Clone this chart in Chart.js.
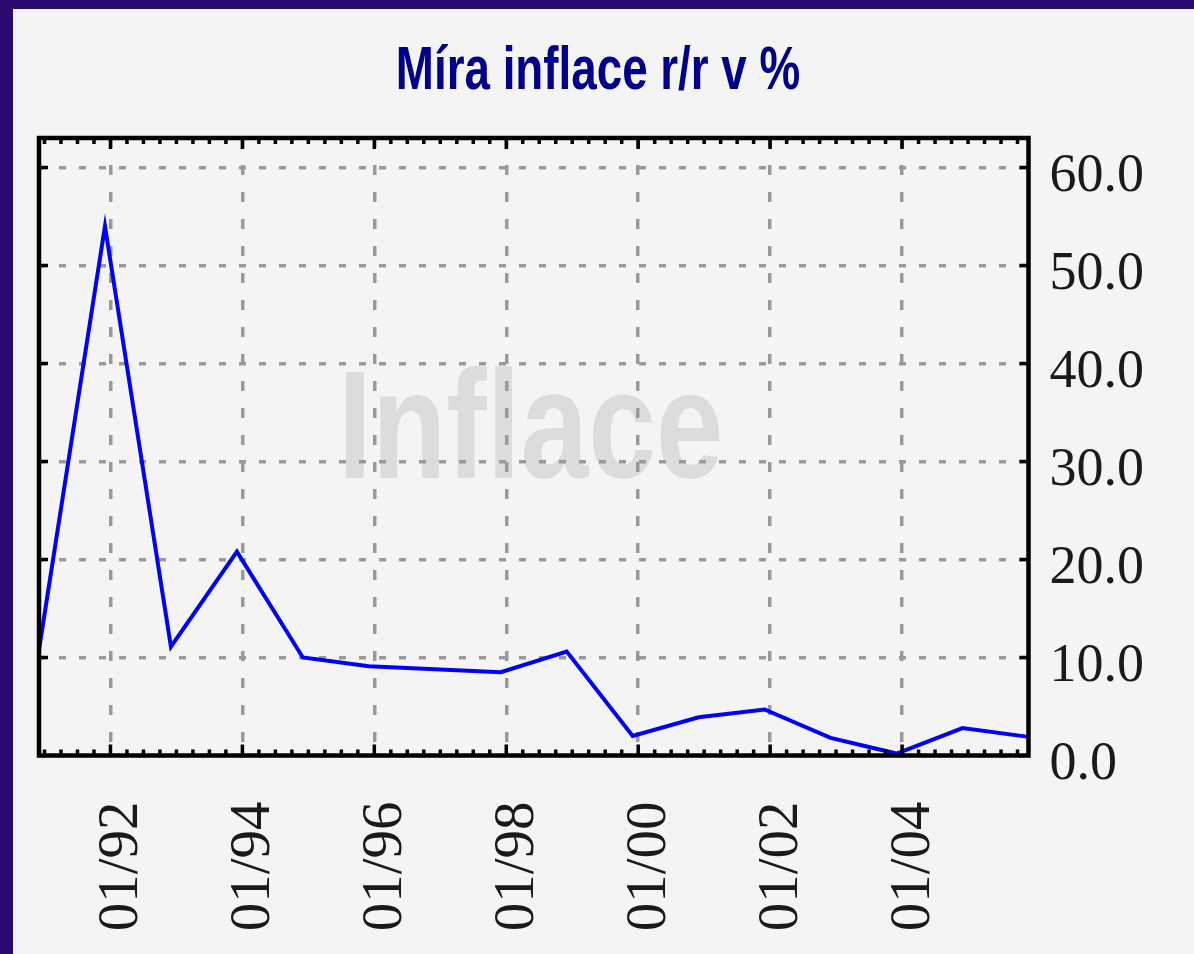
<!DOCTYPE html>
<html>
<head>
<meta charset="utf-8">
<title>Míra inflace</title>
<script src="https://cdn.jsdelivr.net/npm/chart.js@4.4.0/dist/chart.umd.min.js"></script>
<style>
  html, body { margin: 0; padding: 0; }
  body { width: 1194px; height: 954px; background: #2b0a6f; overflow: hidden; position: relative; }
  #panel { position: absolute; left: 13px; top: 9px; width: 1181px; height: 945px; background: #f4f4f4; }
</style>
</head>
<body>
<div id="panel"><canvas id="inflaceChart"></canvas></div>
<script>
// ===== data (roční inflace, bod vždy v prosinci daného roku) =====
const years = [1990, 1991, 1992, 1993, 1994, 1995, 1996, 1997, 1998, 1999, 2000, 2001, 2002, 2003, 2004, 2005];
const inflation = [10.8, 54.0, 11.1, 20.8, 10.0, 9.1, 8.8, 8.5, 10.6, 2.0, 3.9, 4.7, 1.8, 0.2, 2.8, 1.9];
const xTickLabels = ['01/92', '01/94', '01/96', '01/98', '01/00', '01/02', '01/04'];
const yTicks = [0, 10, 20, 30, 40, 50, 60];

const chartTitle = 'Míra inflace r/r v %';
const watermark = 'Inflace';

// osa x = měsíce od 12/1990
const START_YEAR = 1990;
const X_MAX = 180;
const Y_MAX = 63;

function monthOfYearEnd(y) {
  return (y - START_YEAR) * 12;
}
function monthOfLabel(lbl) {
  const [mm, yy] = lbl.split('/').map(Number);
  const full = yy < 50 ? 2000 + yy : 1900 + yy;
  return (full - START_YEAR) * 12 + (mm - 12);
}

const points = years.map((y, i) => ({ x: monthOfYearEnd(y), y: inflation[i] }));
const majorMonths = xTickLabels.map(monthOfLabel);

// zúžené tučné písmo (Arial Narrow tu není, tak se Liberation Sans stáhne vodorovně)
function narrowText(ctx, text, cx, baseline, size, squeeze, color) {
  ctx.save();
  ctx.font = 'bold ' + size + 'px "Liberation Sans", Arial, sans-serif';
  ctx.fillStyle = color;
  ctx.textAlign = 'center';
  ctx.textBaseline = 'alphabetic';
  ctx.translate(cx, baseline);
  ctx.scale(squeeze, 1);
  ctx.fillText(text, 0, 0);
  ctx.restore();
}

// ===== titulek, vodoznak, rámeček a ryskové značky =====
const framePlugin = {
  id: 'frame',
  beforeDraw(chart) {
    const { ctx, chartArea: a } = chart;
    // titulek nad grafem
    narrowText(ctx, chartTitle, 585, 80, 61, 0.75, '#00008b');
    // vodoznak pod mřížkou
    narrowText(ctx, watermark, a.left + a.width * 0.497, a.top + a.height * 0.551, 154, 0.79, '#dcdcdc');
  },
  afterDatasetsDraw(chart) {
    const { ctx, chartArea: a, scales } = chart;
    const xs = scales.x, ys = scales.y;
    ctx.save();
    ctx.strokeStyle = '#000';
    ctx.lineWidth = 3.5;
    ctx.beginPath();
    // čtvrtletní značky nahoře i dole, delší u popisků
    const step = 3;
    for (let m = majorMonths[0] % step; m <= X_MAX; m += step) {
      if (m <= 0 || m >= X_MAX) continue;
      const px = xs.getPixelForValue(m);
      const len = majorMonths.includes(m) ? 11 : 6;
      ctx.moveTo(px, a.bottom); ctx.lineTo(px, a.bottom - len);
      ctx.moveTo(px, a.top); ctx.lineTo(px, a.top + len);
    }
    yTicks.forEach(v => {
      if (v <= 0) return;
      const py = ys.getPixelForValue(v);
      ctx.moveTo(a.left, py); ctx.lineTo(a.left + 9, py);
      ctx.moveTo(a.right, py); ctx.lineTo(a.right - 9, py);
    });
    ctx.stroke();
    ctx.lineWidth = 4.5;
    ctx.strokeRect(a.left, a.top, a.right - a.left, a.bottom - a.top);
    ctx.restore();
  }
};

const ctx = document.getElementById('inflaceChart').getContext('2d');
new Chart(ctx, {
  type: 'line',
  data: {
    datasets: [{
      label: 'Inflace',
      data: points,
      borderColor: '#0000ff',
      borderWidth: 4,
      pointRadius: 0,
      tension: 0,
      fill: false
    }]
  },
  options: {
    responsive: true,
    maintainAspectRatio: false,
    animation: false,
    layout: { padding: { left: 26, right: 37, top: 129, bottom: 0 } },
    plugins: {
      legend: { display: false },
      tooltip: { enabled: false },
      title: { display: false }
    },
    scales: {
      x: {
        type: 'linear',
        min: 0,
        max: X_MAX,
        afterBuildTicks: (scale) => { scale.ticks = majorMonths.map(v => ({ value: v })); },
        afterFit: (scale) => { scale.height = 198.5; },
        ticks: {
          autoSkip: false,
          minRotation: 90,
          maxRotation: 90,
          padding: 46,
          labelOffset: 12,
          color: '#1a1a1a',
          font: { family: '"Liberation Serif", "Times New Roman", serif', size: 57 },
          callback: (value, index) => xTickLabels[index]
        },
        grid: { color: '#999999', lineWidth: 3.5, drawTicks: false },
        border: { display: false, dash: [10, 17] }
      },
      y: {
        position: 'right',
        min: 0,
        max: Y_MAX,
        afterBuildTicks: (scale) => { scale.ticks = yTicks.map(v => ({ value: v })); },
        afterFit: (scale) => { scale.width = 128.5; },
        ticks: {
          padding: 21,
          labelOffset: 9,
          color: '#1a1a1a',
          font: { family: '"Liberation Serif", "Times New Roman", serif', size: 54 },
          callback: (value) => Number(value).toFixed(1)
        },
        grid: { color: '#999999', lineWidth: 3.5, drawTicks: false },
        border: { display: false, dash: [7, 13] }
      }
    }
  },
  plugins: [framePlugin]
});
</script>
</body>
</html>
